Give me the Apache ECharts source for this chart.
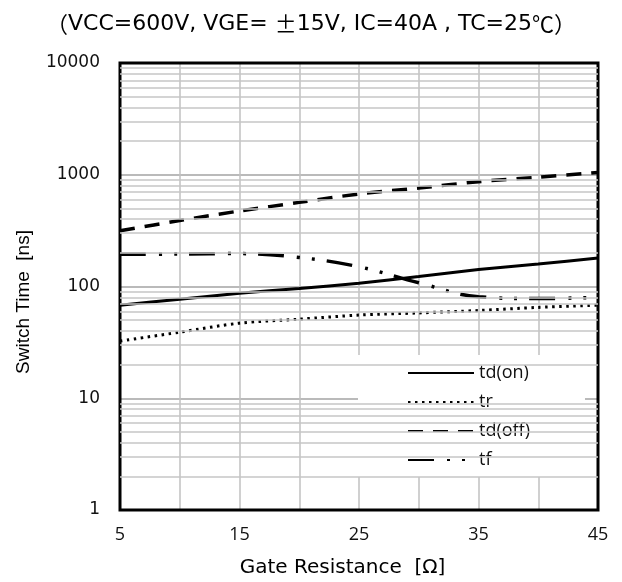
<!DOCTYPE html>
<html><head><meta charset="utf-8">
<script src="https://cdn.jsdelivr.net/npm/echarts@6/dist/echarts.min.js"></script>
<style>html,body{margin:0;padding:0;background:#fff}#c{width:622px;height:582px}</style>
</head><body><div id="c"></div>
<script>
// Gate resistance values (Ω)
const xValues = [5, 10, 15, 20, 25, 30, 35, 40, 45];
// Switching times (ns)
const tdOn  = [68, 77, 87, 96, 107, 123, 142, 159, 180];
const tr    = [32.5, 39, 47, 51, 55.5, 58, 61, 65, 68];
const tdOff = [316, 389, 474, 566, 673, 760, 867, 951, 1050];
const tf    = [194, 195, 197, 182, 150, 108, 81, 78, 80];
const seriesNames = ['td(on)', 'tr', 'td(off)', 'tf'];
const xTickLabels = [5, 15, 25, 35, 45];
const yTickLabels = [1, 10, 100, 1000, 10000];
const minorGridValues = [2,3,4,5,6,7,8,9, 20,30,40,50,60,70,80,90, 200,300,400,500,600,700,800,900, 2000,3000,4000,5000,6000,7000,8000,9000];

const pairs = arr => xValues.map((x, i) => [x, arr[i]]);
const lineBase = {type: 'line', symbol: 'none', showSymbol: false, animation: false, z: 2, itemStyle: {color: '#000'}};

const chart = echarts.init(document.getElementById('c'), null, {renderer: 'canvas'});
chart.setOption({
  animation: false,
  color: ['#000'],
  backgroundColor: '#fff',
  title: {
    left: 'center', top: 8,
    text: '{c|（}{l|VCC=600V, VGE= }{c|±}{l|15V, IC=40A , TC=25}{c|℃）}',
    textStyle: {
      fontWeight: 'normal',
      rich: {
        l: {fontFamily: 'DejaVu Sans', fontSize: 22, fontWeight: 'normal', color: '#000'},
        c: {fontFamily: 'Noto Sans CJK JP', fontSize: 22, fontWeight: 'normal', color: '#000'}
      }
    }
  },
  grid: {left: 120, right: 24, top: 63, bottom: 72, show: true, borderColor: '#000', borderWidth: 3, backgroundColor: 'transparent', z: 3},
  xAxis: {
    type: 'value', min: 5, max: 45, interval: 5,
    axisLine: {show: false}, axisTick: {show: false},
    axisLabel: {
      margin: 16, fontFamily: 'Open Sans', fontSize: 18, color: '#111',
      formatter: v => xTickLabels.includes(v) ? String(v) : ''
    },
    splitLine: {show: true, showMinLine: false, showMaxLine: false, lineStyle: {color: '#c0c0c0', width: 1.5}}
  },
  yAxis: {
    type: 'log', logBase: 10, min: 1, max: 10000,
    axisLine: {show: false}, axisTick: {show: false},
    axisLabel: {
      margin: 20, fontFamily: 'DejaVu Sans', fontSize: 17, color: '#111',
      formatter: v => yTickLabels.includes(v) ? String(v) : ''
    },
    splitLine: {show: true, showMinLine: false, showMaxLine: false, lineStyle: {color: '#a3a3a3', width: 1.5}}
  },
  legend: {
    orient: 'vertical', left: 358, top: 355,
    backgroundColor: '#fff',
    padding: [9, 55, 8, 49],
    itemWidth: 66, itemHeight: 14, itemGap: 11,
    itemStyle: {opacity: 0},
    textStyle: {fontFamily: 'Open Sans', fontSize: 18, color: '#111'},
    data: seriesNames
  },
  graphic: [
    {type: 'text', x: 342.5, y: 568, style: {text: 'Gate Resistance  [Ω]', fontFamily: 'DejaVu Sans', fontSize: 20, fill: '#000', align: 'center', verticalAlign: 'middle'}},
    {type: 'text', x: 24, y: 302, rotation: Math.PI / 2, style: {text: 'Switch Time  [ns]', fontFamily: 'Liberation Sans', fontSize: 19, fill: '#000', align: 'center', verticalAlign: 'middle'}}
  ],
  series: [
    {
      type: 'line', name: 'grid-minor', data: [], z: 1, silent: true, animation: false,
      markLine: {
        silent: true, symbol: 'none', animation: false,
        label: {show: false},
        lineStyle: {type: 'solid', color: '#c6c6c6', width: 1.5},
        data: minorGridValues.map(v => ({yAxis: v}))
      }
    },
    Object.assign({}, lineBase, {name: seriesNames[0], data: pairs(tdOn), smooth: 0.2,
      lineStyle: {color: '#000', width: 3, type: 'solid'}}),
    Object.assign({}, lineBase, {name: seriesNames[1], data: pairs(tr), smooth: 0.3,
      lineStyle: {color: '#000', width: 3, type: [2.5, 4.5]}}),
    Object.assign({}, lineBase, {name: seriesNames[2], data: pairs(tdOff), smooth: 0.3,
      lineStyle: {color: '#000', width: 3.5, type: [15, 10]}}),
    Object.assign({}, lineBase, {name: seriesNames[3], data: pairs(tf), smooth: 0.4,
      lineStyle: {color: '#000', width: 3.5, type: [26, 13, 3, 12, 3, 12]}})
  ]
});
</script>
</body></html>
